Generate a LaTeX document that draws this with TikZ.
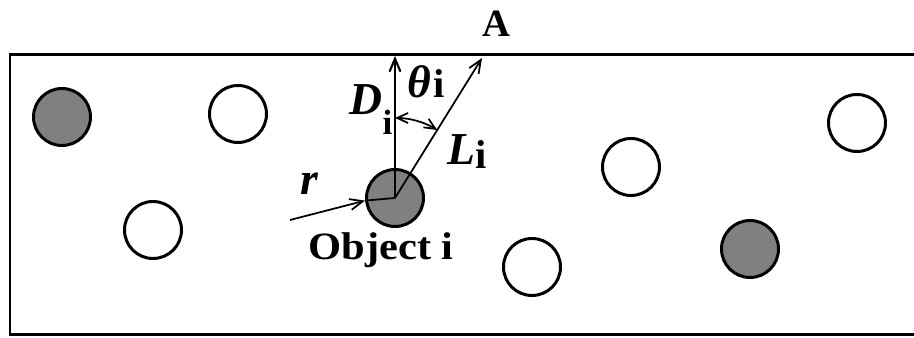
\documentclass[tikz,border=0pt]{standalone}
\usepackage{fontspec}
\setmainfont{Liberation Serif}
\usetikzlibrary{arrows.meta}
\begin{document}
\begin{tikzpicture}[
  every node/.style={font=\fontsize{11}{13}\selectfont},
  obj/.style={draw, circle, line width=0.85pt, minimum size=0.57cm,
              inner sep=0pt, fill=white},
  hit/.style={obj, fill=gray},
  ray/.style={line width=0.5pt, -{Straight Barb[length=1.3mm, width=1.1mm]}},
  sym/.style={font=\fontsize{13}{15}\selectfont\bfseries\itshape,
              anchor=base west, inner sep=0pt},
]
\clip (0,0) rectangle (9.14,3.38);

%% ── Field (right side runs off the picture) ─────────────────────────────────
\draw[line width=0.85pt] (0.10,0.03) rectangle (9.40,2.83);

%% ── Objects ──────────────────────────────────────────────────────────────────
\node[hit] (g1) at (0.62, 2.21) {};
\node[obj] (w1) at (2.38, 2.24) {};
\node[obj] (w2) at (1.53, 1.08) {};
\node[hit] (oi) at (3.95, 1.40) {};
\node[obj] (w3) at (5.32, 0.71) {};
\node[obj] (w4) at (6.31, 1.71) {};
\node[hit] (g2) at (7.50, 0.89) {};
\node[obj] (w5) at (8.57, 2.15) {};

%% ── Rays from object i ───────────────────────────────────────────────────────
\coordinate (wall) at (3.95, 2.82);
\coordinate (pA)   at (4.82, 2.80);
\coordinate (rin)  at (2.90, 1.18);

\draw[ray, line width=0.6pt] (oi.center) -- (wall);
\draw[ray] (oi.center) -- (pA);
\draw[ray] (rin) -- (oi.185);
\draw[line width=0.5pt] (oi.185) -- (oi.center);

%% angle between D and L
\draw[line width=0.5pt, {Straight Barb[length=1.1mm, width=1mm]}-{Straight Barb[length=1.1mm, width=1mm]}]
  (oi.center) ++(90:0.8) arc[start angle=90, end angle=58.2, radius=0.8];

%% ── Labels ───────────────────────────────────────────────────────────────────
\node[font=\fontsize{11}{13}\selectfont\bfseries, anchor=base west, inner sep=0pt]
  (lA) at (4.82, 3.01) {A};
\node[sym] (lD) at (3.49, 2.23)
  {D\raisebox{-0.42em}{\upshape\fontsize{10}{11}\selectfont i}};
\node[sym] (lT) at (4.07, 2.40)
  {θ\kern0.05em{\upshape\fontsize{11.5}{12}\selectfont i}};
\node[sym] (lL) at (4.47, 1.73)
  {L\raisebox{-0.08em}{\upshape\fontsize{11.5}{12}\selectfont i}};
\node[sym] (lr) at (3.00, 1.43) {r};
\node[font=\fontsize{11}{13}\selectfont\bfseries, anchor=base, inner sep=0pt]
  (lO) at (3.81, 0.78) {\scalebox{1.1}[1]{Object i}};

\end{tikzpicture}
\end{document}
